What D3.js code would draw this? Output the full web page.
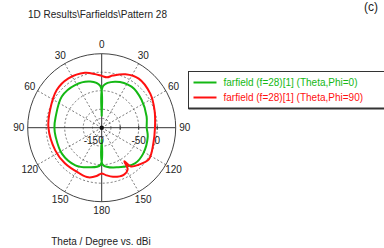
<!DOCTYPE html>
<html>
<head>
<meta charset="utf-8">
<script src="https://cdn.jsdelivr.net/npm/d3@7"></script>
<style>
  body { margin: 0; background: #fff; }
  text { font-family: "Liberation Sans", Arial, sans-serif; font-size: 10px; fill: #222; }
</style>
</head>
<body>
<svg width="384" height="248"></svg>
<script>
var angleTicks = [0, 30, 60, 90, 120, 150, 180, 210, 240, 270, 300, 330];
var angleLabels = ['0', '30', '60', '90', '120', '150', '180', '150', '120', '90', '60', '30'];
var ringValues = [-125, -100, -50, 0];
var radialLabels = ['-150', '-50', '0'];
var radialLabelValues = [-150, -50, 0];

// Phi=0 cut (green)
var greenAngles = [0, 2, 16, 36, 55, 76, 90, 101, 122, 137, 157, 178, 180, 182, 199, 215, 237, 259, 270, 283, 308, 328, 346, 358];
var greenDb = [-118, -37, -20.5, -12.7, -18.6, -24.9, -28.4, -23.2, -17.8, -18.1, -33.8, -49.2, -117, -49.2, -37, -26, -21.6, -23.2, -22.2, -22.2, -13.2, -14.1, -21.6, -37];

// Phi=90 cut (red)
var redAngles = [0, 6, 12, 24, 37, 55, 72, 90, 107, 124, 135, 143, 146, 148, 155, 167, 175, 180, 186, 195, 207, 226, 244, 270, 289, 310, 326, 343, 353];
var redDb = [-10, -13, -6, 8.1, 16.2, 10.3, 0.3, -6, -4.1, 3.5, -8.6, -19, -40.5, -17.6, -9.5, -13.8, -21.4, -26.5, -18.6, -11.1, -13, -11.6, -10.3, -6, -2.4, 8.6, 10.8, 5.4, -4.1];

var seriesNames = ['farfield (f=28)[1] (Theta,Phi=0)', 'farfield (f=28)[1] (Theta,Phi=90)'];
var seriesColors = ['#14b814', '#ff1010'];

var cx = 101.7, cy = 127.7, outerR = 74;
var svg = d3.select('svg');

var rScale = d3.scaleLinear().domain([-150, 50]).range([0, outerR]);
var toRad = function(a) { return a * Math.PI / 180; };

svg.append('text')
  .text('1D Results\\Farfields\\Pattern 28')
  .attr('x', 28).attr('y', 18);

svg.append('text')
  .text('(c)')
  .attr('x', 364).attr('y', 11)
  .style('font-size', '12px');

var plot = svg.append('g').attr('transform', 'translate(' + cx + ',' + cy + ')');

// dashed rings
plot.selectAll('.ring')
  .data(ringValues)
  .enter()
  .append('circle')
  .attr('r', (d) => rScale(d))
  .attr('fill', 'none')
  .attr('stroke', '#555')
  .attr('stroke-width', 0.8)
  .attr('stroke-dasharray', '2,2');

// dashed spokes
plot.selectAll('.spoke')
  .data(angleTicks.filter((d) => d % 90 != 0))
  .enter()
  .append('line')
  .attr('x2', (d) => outerR * Math.sin(toRad(d)))
  .attr('y2', (d) => -outerR * Math.cos(toRad(d)))
  .attr('stroke', '#555')
  .attr('stroke-width', 0.8)
  .attr('stroke-dasharray', '2,2');

// outer circle
plot.append('circle')
  .attr('r', outerR)
  .attr('fill', 'none')
  .attr('stroke', '#444')
  .attr('stroke-width', 1);

// main axes
plot.append('line').attr('x1', -outerR).attr('x2', outerR).attr('stroke', '#333').attr('stroke-width', 1);
plot.append('line').attr('y1', -outerR).attr('y2', outerR).attr('stroke', '#333').attr('stroke-width', 1);

// ticks on horizontal axis
plot.selectAll('.rtick')
  .data([-100, -50, 0])
  .enter()
  .append('line')
  .attr('x1', (d) => rScale(d)).attr('x2', (d) => rScale(d))
  .attr('y1', -2).attr('y2', 2)
  .attr('stroke', '#333');

// angle labels
plot.selectAll('.alabel')
  .data(angleTicks)
  .enter()
  .append('text')
  .attr('text-anchor', 'middle')
  .attr('x', (d) => 83 * Math.sin(toRad(d)))
  .attr('y', (d) => -83 * Math.cos(toRad(d)) + 3.5)
  .text((d, i) => angleLabels[i]);

// curves
var line = d3.lineRadial()
  .angle((d) => toRad(d[0]))
  .radius((d) => rScale(d[1]))
  .curve(d3.curveCatmullRomClosed.alpha(0.5));

var greenData = greenAngles.map((a, i) => [a, greenDb[i]]);
var redData = redAngles.map((a, i) => [a, redDb[i]]);

plot.append('path')
  .attr('d', line(greenData))
  .attr('fill', 'none')
  .attr('stroke', seriesColors[0])
  .attr('stroke-width', 2);

plot.append('path')
  .attr('d', line(redData))
  .attr('fill', 'none')
  .attr('stroke', seriesColors[1])
  .attr('stroke-width', 2);

// center dot
plot.append('circle').attr('r', 2.2).attr('fill', '#111');

// radial labels
plot.selectAll('.rlabel')
  .data(radialLabelValues)
  .enter()
  .append('text')
  .attr('text-anchor', 'middle')
  .attr('x', (d, i) => rScale(d) - (i == 0 ? 8 : 0))
  .attr('y', 16)
  .text((d, i) => radialLabels[i]);

// legend
var legend = svg.append('g').attr('transform', 'translate(188.5,71.5)');
legend.append('rect')
  .attr('width', 210).attr('height', 37)
  .attr('fill', '#fff')
  .attr('stroke', '#333')
  .attr('stroke-width', 1);
legend.append('line')
  .attr('x1', 0).attr('x2', 210).attr('y1', 37).attr('y2', 37)
  .attr('stroke', '#333').attr('stroke-width', 2);

legend.selectAll('.litem')
  .data(seriesNames)
  .enter()
  .append('line')
  .attr('x1', 5).attr('x2', 28)
  .attr('y1', (d, i) => 11 + i * 15)
  .attr('y2', (d, i) => 11 + i * 15)
  .attr('stroke', (d, i) => seriesColors[i])
  .attr('stroke-width', 2);

legend.selectAll('.ltext')
  .data(seriesNames)
  .enter()
  .append('text')
  .attr('x', 35)
  .attr('y', (d, i) => 14.5 + i * 15)
  .style('fill', (d, i) => seriesColors[i])
  .text((d) => d);

svg.append('text')
  .text('Theta / Degree vs. dBi')
  .attr('text-anchor', 'middle')
  .attr('x', 101)
  .attr('y', 245);
</script>
</body>
</html>
